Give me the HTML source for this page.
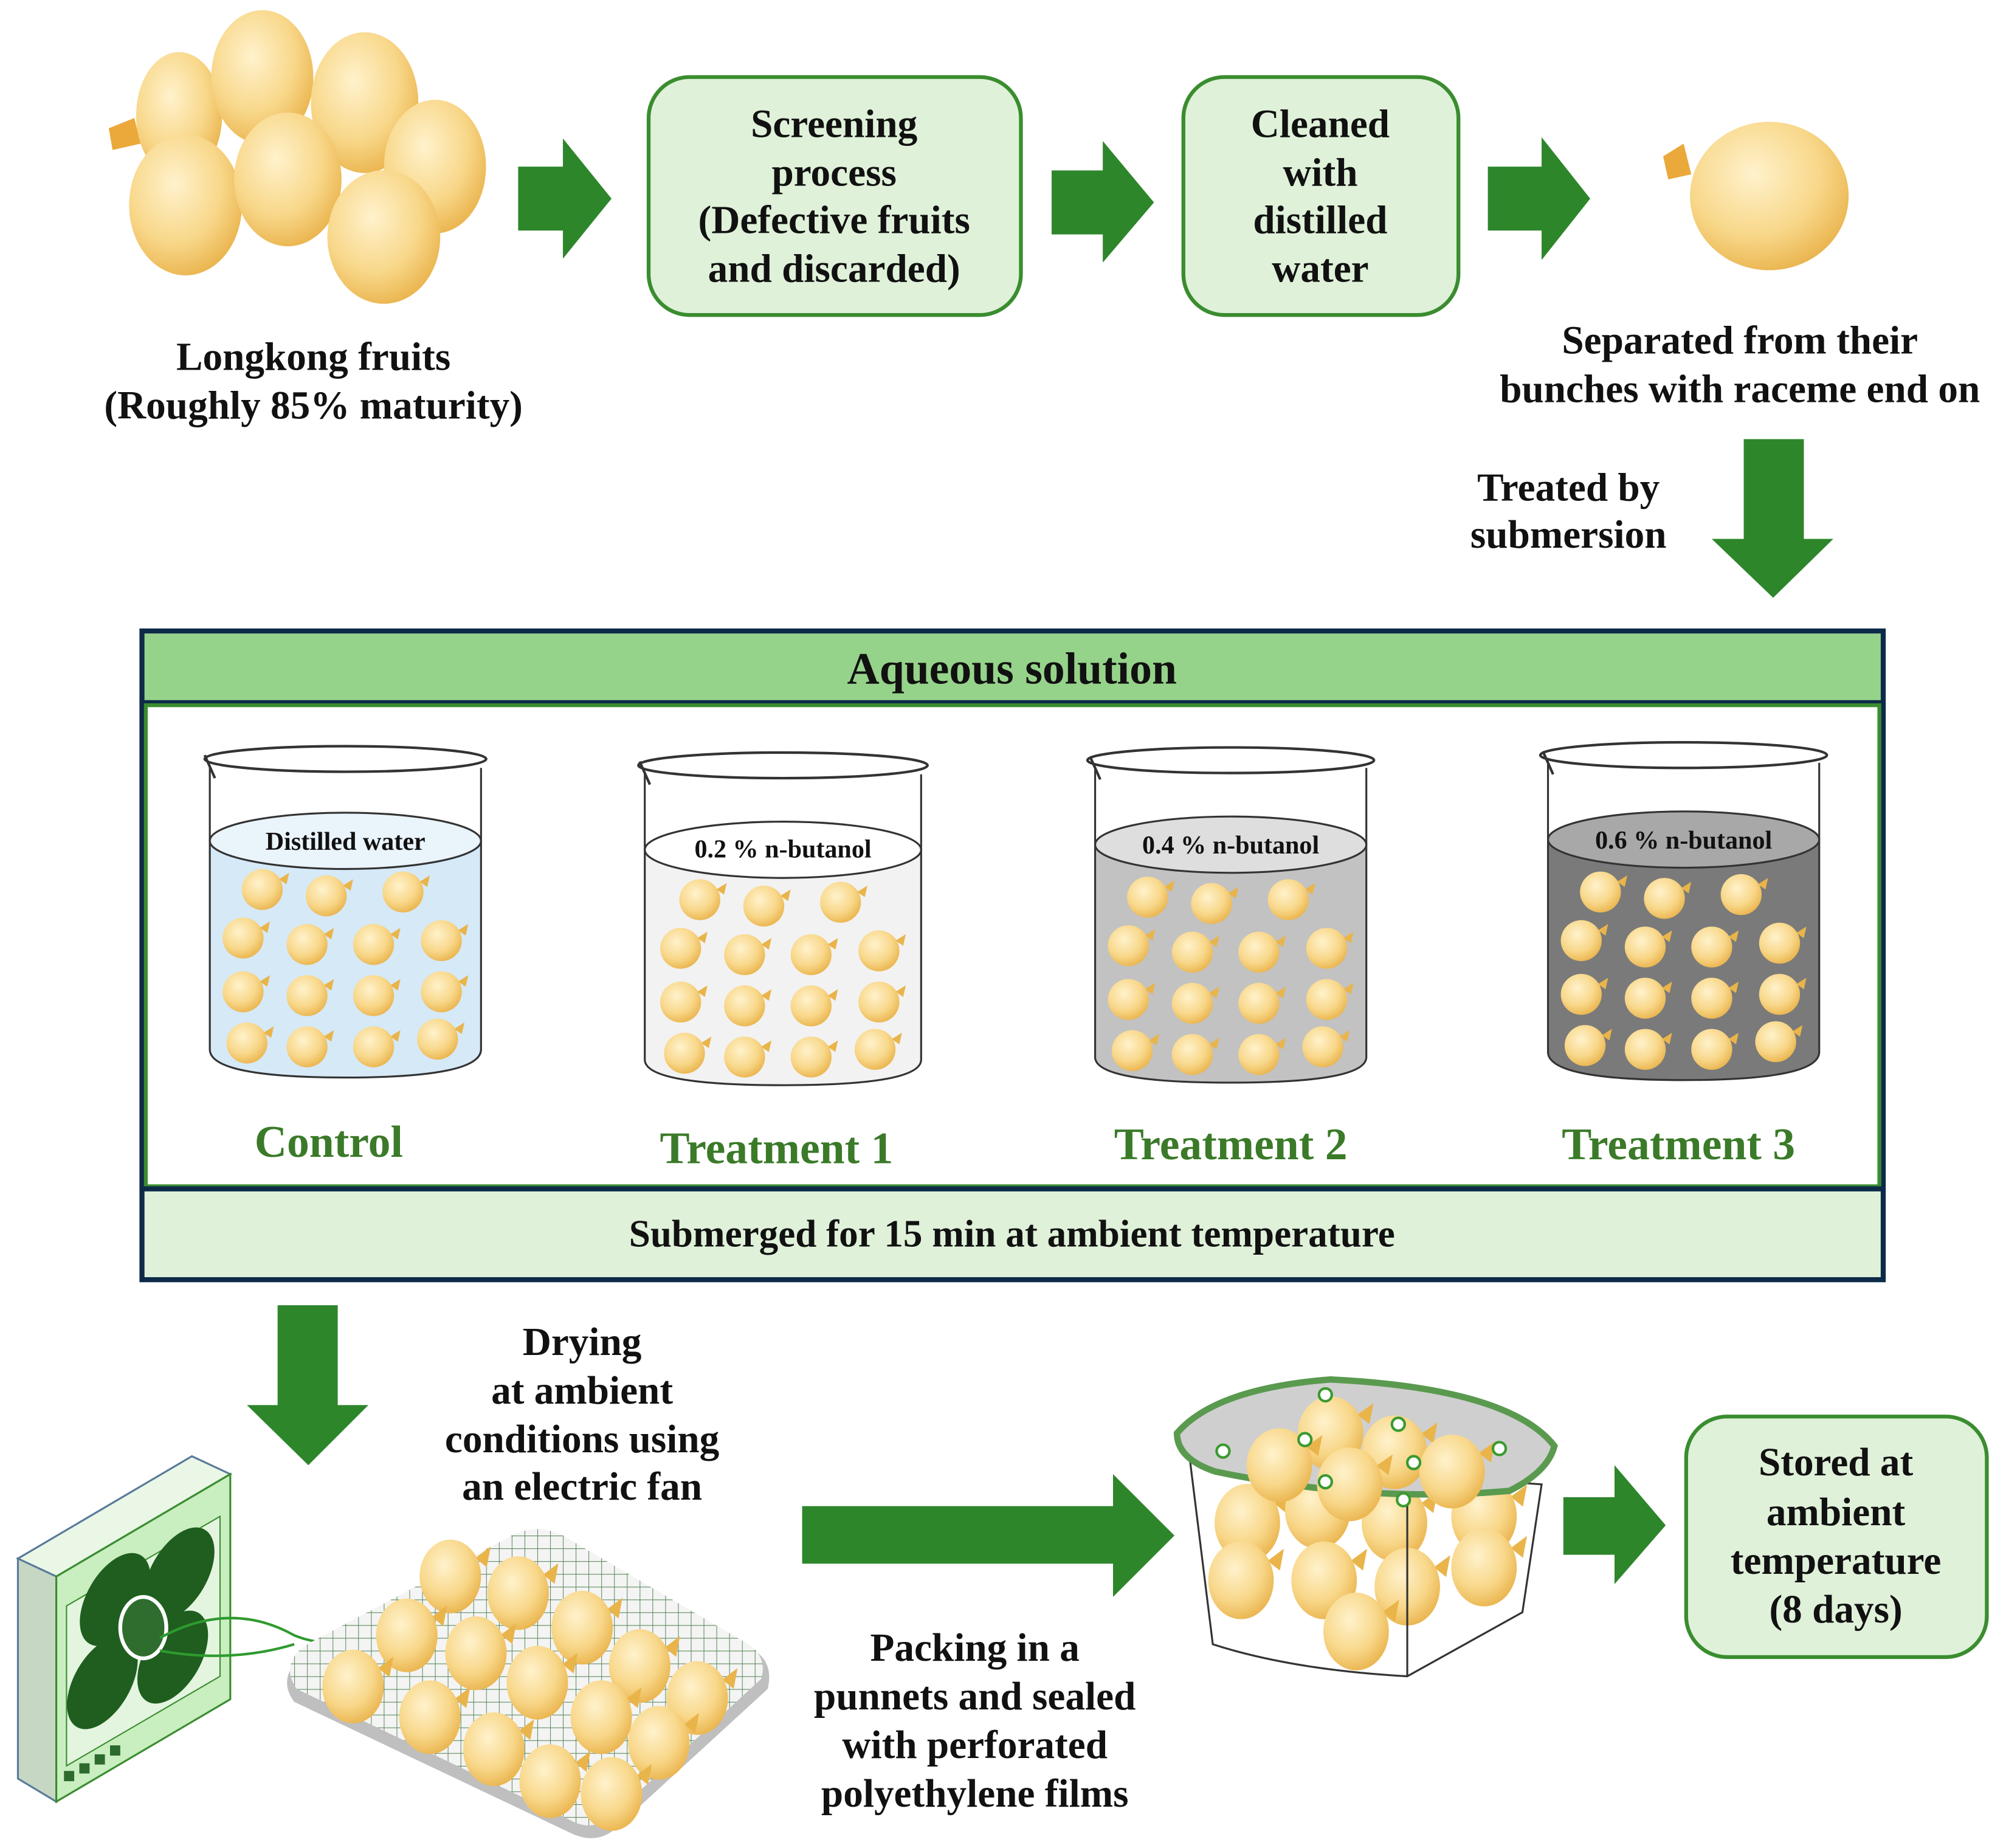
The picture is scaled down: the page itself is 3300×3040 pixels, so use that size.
<!DOCTYPE html>
<html><head><meta charset="utf-8"><style>
html,body{margin:0;padding:0;background:#fff}
svg{display:block}
text{font-family:"Liberation Serif",serif;font-weight:bold}
</style></head><body>
<svg width="3300" height="3040" viewBox="0 0 1568 1444" xmlns="http://www.w3.org/2000/svg">
<defs>
<radialGradient id="fg" cx="0.4" cy="0.35" r="0.7"><stop offset="0" stop-color="#fff2cc"/><stop offset="0.6" stop-color="#f8d789"/><stop offset="1" stop-color="#e9b24a"/></radialGradient>
<g id="f"><path d="M13,-8 l8,-5 l-2,9 z" fill="#e9b449"/><ellipse cx="0" cy="0" rx="16" ry="16" fill="url(#fg)"/></g>
<g id="F"><ellipse cx="0" cy="0" rx="42" ry="55" fill="url(#fg)"/></g>
<pattern id="grid" width="10" height="10" patternUnits="userSpaceOnUse"><rect width="10" height="10" fill="#f4f4f4"/><path d="M0,0H10M0,0V10" stroke="#5d8a5d" stroke-width="1"/></pattern>
</defs>

<!-- top-left fruit cluster -->
<path d="M85,100 l20,-8 l5,20 l-22,5 z" fill="#eaa93a"/>
<use href="#F" transform="translate(140,90) scale(0.8,0.9)"/>
<use href="#F" transform="translate(205,60) scale(0.95,0.95)"/>
<use href="#F" transform="translate(285,80) scale(1,1)"/>
<use href="#F" transform="translate(340,130) scale(0.95,0.95)"/>
<use href="#F" transform="translate(145,160) scale(1.05,1)"/>
<use href="#F" transform="translate(225,140) scale(1,0.95)"/>
<use href="#F" transform="translate(300,185) scale(1.05,0.95)"/>

<!-- arrows -->
<g fill="#2e862b">
<path d="M405,130H440V108L478,155L440,202V180H405Z"/>
<path d="M822,133H862V110L902,158L862,205V183H822Z"/>
<path d="M1163,130H1205V107L1243,155L1205,203V180H1163Z"/>
<path d="M1363,343H1410V421H1433L1386,467L1338,421H1363Z"/>
<path d="M217,1020H264V1098H288L241,1145L193,1098H217Z"/>
<path d="M627,1177H870V1152L918,1200L870,1248V1222H627Z"/>
<path d="M1222,1170H1262V1145L1302,1192L1262,1238V1215H1222Z"/>
</g>

<!-- boxes -->
<rect x="507" y="60" width="291" height="186" rx="32" fill="#dff1d9" stroke="#3a8d2f" stroke-width="3"/>
<rect x="925" y="60" width="215" height="186" rx="32" fill="#dff1d9" stroke="#3a8d2f" stroke-width="3"/>
<rect x="1318" y="1107" width="235" height="188" rx="32" fill="#dff1d9" stroke="#3a8d2f" stroke-width="3"/>

<g font-size="31" fill="#111" text-anchor="middle">
<text x="652" y="107">Screening</text>
<text x="652" y="145">process</text>
<text x="652" y="182">(Defective fruits</text>
<text x="652" y="220">and discarded)</text>
<text x="1032" y="107">Cleaned</text>
<text x="1032" y="145">with</text>
<text x="1032" y="182">distilled</text>
<text x="1032" y="220">water</text>
<text x="245" y="289">Longkong fruits</text>
<text x="245" y="327">(Roughly 85% maturity)</text>
<text x="1360" y="276">Separated from their</text>
<text x="1360" y="314">bunches with raceme end on</text>
<text x="1226" y="391">Treated by</text>
<text x="1226" y="428">submersion</text>
<text x="455" y="1059">Drying</text>
<text x="455" y="1097">at ambient</text>
<text x="455" y="1135">conditions  using</text>
<text x="455" y="1172">an electric fan</text>
<text x="762" y="1298">Packing in a</text>
<text x="762" y="1336">punnets and sealed</text>
<text x="762" y="1374">with perforated</text>
<text x="762" y="1412">polyethylene  films</text>
<text x="1435" y="1153">Stored at</text>
<text x="1435" y="1192">ambient</text>
<text x="1435" y="1230">temperature</text>
<text x="1435" y="1268">(8 days)</text>
</g>

<!-- single fruit -->
<path d="M1300,122 l16,-10 l6,24 l-18,4 z" fill="#eaa93a"/>
<ellipse cx="1383" cy="153" rx="62" ry="58" fill="url(#fg)"/>

<!-- big box -->
<rect x="111" y="493" width="1361" height="507" fill="#fff" stroke="#0d2a48" stroke-width="4"/>
<rect x="113" y="495" width="1357" height="53" fill="#96d38a"/>
<line x1="111" y1="549" x2="1472" y2="549" stroke="#0d2a48" stroke-width="4"/>
<rect x="114" y="551" width="1355" height="376" fill="none" stroke="#3a8d2f" stroke-width="3"/>
<rect x="113" y="930" width="1357" height="68" fill="#dff1d9"/>
<line x1="111" y1="929" x2="1472" y2="929" stroke="#0d2a48" stroke-width="4"/>
<text x="791" y="534" font-size="35" text-anchor="middle" fill="#111">Aqueous solution</text>
<text x="791" y="974" font-size="30" text-anchor="middle" fill="#111">Submerged for 15 min at ambient temperature</text>

<!-- beakers -->
<g>
<path d="M164,657 V820 Q164,842 270,842 Q376,842 376,820 V657 Z" fill="#d6e9f7" stroke="#333" stroke-width="1.5"/>
<ellipse cx="270" cy="657" rx="106" ry="22" fill="#eaf4fb" stroke="#333" stroke-width="1.5"/>
<path d="M164,600 V657 M376,600 V657" stroke="#333" stroke-width="1.5"/>
<ellipse cx="270" cy="593" rx="110" ry="10" fill="none" stroke="#333" stroke-width="2"/>
<path d="M160,590 l8,18" stroke="#333" stroke-width="2"/>
<text x="270" y="664" font-size="20" text-anchor="middle" fill="#111">Distilled water</text>
</g>
<g>
<path d="M504,664 V828 Q504,848 612,848 Q720,848 720,828 V664 Z" fill="#f2f2f2" stroke="#333" stroke-width="1.5"/>
<ellipse cx="612" cy="664" rx="108" ry="22" fill="#fff" stroke="#333" stroke-width="1.5"/>
<path d="M504,605 V664 M720,605 V664" stroke="#333" stroke-width="1.5"/>
<ellipse cx="612" cy="598" rx="113" ry="10" fill="none" stroke="#333" stroke-width="2"/>
<path d="M500,595 l8,18" stroke="#333" stroke-width="2"/>
<text x="612" y="670" font-size="20" text-anchor="middle" fill="#111">0.2 % n-butanol</text>
</g>
<g>
<path d="M856,660 V826 Q856,846 962,846 Q1068,846 1068,826 V660 Z" fill="#c2c2c2" stroke="#333" stroke-width="1.5"/>
<ellipse cx="962" cy="660" rx="106" ry="22" fill="#dedede" stroke="#333" stroke-width="1.5"/>
<path d="M856,600 V660 M1068,600 V660" stroke="#333" stroke-width="1.5"/>
<ellipse cx="962" cy="594" rx="112" ry="10" fill="none" stroke="#333" stroke-width="2"/>
<path d="M852,591 l8,18" stroke="#333" stroke-width="2"/>
<text x="962" y="667" font-size="20" text-anchor="middle" fill="#111">0.4 % n-butanol</text>
</g>
<g>
<path d="M1210,656 V822 Q1210,844 1316,844 Q1422,844 1422,822 V656 Z" fill="#7a7a7a" stroke="#333" stroke-width="1.5"/>
<ellipse cx="1316" cy="656" rx="106" ry="22" fill="#a8a8a8" stroke="#333" stroke-width="1.5"/>
<path d="M1210,596 V656 M1422,596 V656" stroke="#333" stroke-width="1.5"/>
<ellipse cx="1316" cy="590" rx="112" ry="10" fill="none" stroke="#333" stroke-width="2"/>
<path d="M1206,587 l8,18" stroke="#333" stroke-width="2"/>
<text x="1316" y="663" font-size="20" text-anchor="middle" fill="#111">0.6 % n-butanol</text>
</g>

<!-- beaker fruits -->
<g id="fr">
<use href="#f" x="205" y="695"/><use href="#f" x="255" y="700"/><use href="#f" x="315" y="697"/>
<use href="#f" x="190" y="733"/><use href="#f" x="240" y="738"/><use href="#f" x="292" y="738"/><use href="#f" x="345" y="735"/>
<use href="#f" x="190" y="775"/><use href="#f" x="240" y="778"/><use href="#f" x="292" y="778"/><use href="#f" x="345" y="775"/>
<use href="#f" x="193" y="815"/><use href="#f" x="240" y="818"/><use href="#f" x="292" y="818"/><use href="#f" x="342" y="812"/>
</g>
<use href="#fr" x="342" y="8"/>
<use href="#fr" x="692" y="6"/>
<use href="#fr" x="1046" y="2"/>

<g font-size="35" fill="#3a7a28" text-anchor="middle">
<text x="257" y="904">Control</text>
<text x="607" y="909">Treatment 1</text>
<text x="962" y="906">Treatment 2</text>
<text x="1312" y="906">Treatment 3</text>
</g>

<!-- fan -->
<path d="M14,1218 L150,1138 L180,1152 L44,1232 Z" fill="#eaf7e6" stroke="#5a7a9a" stroke-width="1.5"/>
<path d="M14,1218 L44,1232 V1408 L14,1390 Z" fill="#c6d8c4" stroke="#5a7a9a" stroke-width="1.5"/>
<path d="M44,1232 L180,1152 V1328 L44,1408 Z" fill="#c9eec0" stroke="#3a8d2f" stroke-width="1.5"/>
<path d="M52,1255 L172,1185 V1310 L52,1380 Z" fill="#e4f5df" stroke="#3a8d2f" stroke-width="1"/>
<g fill="#1f5e1f">
<ellipse cx="90" cy="1250" rx="22" ry="40" transform="rotate(30 90 1250)"/>
<ellipse cx="140" cy="1230" rx="22" ry="40" transform="rotate(30 140 1230)"/>
<ellipse cx="80" cy="1315" rx="22" ry="40" transform="rotate(30 80 1315)"/>
<ellipse cx="135" cy="1295" rx="22" ry="40" transform="rotate(30 135 1295)"/>
</g>
<ellipse cx="112" cy="1272" rx="18" ry="24" fill="#2f6d2f" stroke="#fff" stroke-width="3"/>
<path d="M125,1280 Q180,1250 230,1278 Q260,1290 280,1275 M125,1290 Q180,1300 230,1285" fill="none" stroke="#2e9a2e" stroke-width="2"/>
<g fill="#2d6a2d"><rect x="50" y="1384" width="8" height="8"/><rect x="62" y="1378" width="8" height="8"/><rect x="74" y="1371" width="8" height="8"/><rect x="86" y="1364" width="8" height="8"/></g>

<!-- tray -->
<path d="M240,1290 L400,1205 Q420,1195 440,1205 L590,1290 Q605,1300 600,1320 L480,1430 Q465,1442 445,1432 L230,1330 Q215,1310 240,1290 Z" fill="#bfbfbf"/>
<path d="M240,1285 L400,1200 Q420,1190 440,1200 L585,1285 Q600,1295 595,1312 L478,1420 Q462,1432 445,1422 L232,1320 Q218,1300 240,1285 Z" fill="url(#grid)"/>
<g>
<use href="#f" transform="translate(352,1232) scale(1.5,1.8)"/>
<use href="#f" transform="translate(405,1245) scale(1.5,1.8)"/>
<use href="#f" transform="translate(318,1278) scale(1.5,1.8)"/>
<use href="#f" transform="translate(372,1292) scale(1.5,1.8)"/>
<use href="#f" transform="translate(455,1272) scale(1.5,1.8)"/>
<use href="#f" transform="translate(276,1318) scale(1.5,1.8)"/>
<use href="#f" transform="translate(420,1315) scale(1.5,1.8)"/>
<use href="#f" transform="translate(500,1302) scale(1.5,1.8)"/>
<use href="#f" transform="translate(336,1342) scale(1.5,1.8)"/>
<use href="#f" transform="translate(470,1342) scale(1.5,1.8)"/>
<use href="#f" transform="translate(545,1327) scale(1.5,1.8)"/>
<use href="#f" transform="translate(386,1367) scale(1.5,1.8)"/>
<use href="#f" transform="translate(515,1362) scale(1.5,1.8)"/>
<use href="#f" transform="translate(430,1392) scale(1.5,1.8)"/>
<use href="#f" transform="translate(478,1402) scale(1.5,1.8)"/>
</g>

<!-- punnet -->
<path d="M930,1140 L948,1285 Q1010,1305 1100,1310 L1190,1260 L1205,1160 Z" fill="#fff" stroke="#333" stroke-width="1.5"/>
<g>
<use href="#f" transform="translate(975,1190) scale(1.6,1.9)"/>
<use href="#f" transform="translate(1030,1180) scale(1.6,1.9)"/>
<use href="#f" transform="translate(1090,1190) scale(1.6,1.9)"/>
<use href="#f" transform="translate(1160,1185) scale(1.6,1.9)"/>
<use href="#f" transform="translate(970,1235) scale(1.6,1.9)"/>
<use href="#f" transform="translate(1035,1235) scale(1.6,1.9)"/>
<use href="#f" transform="translate(1100,1240) scale(1.6,1.9)"/>
<use href="#f" transform="translate(1160,1225) scale(1.6,1.9)"/>
<use href="#f" transform="translate(1060,1275) scale(1.6,1.9)"/>
</g>
<path d="M1100,1165 V1310" stroke="#333" stroke-width="1.5"/>
<path d="M920,1120 Q950,1085 1040,1078 Q1180,1085 1215,1130 Q1210,1150 1180,1165 Q1070,1175 950,1150 Q920,1140 920,1120 Z" fill="#cfcfcf" stroke="#5a9a4f" stroke-width="5"/>
<use href="#f" transform="translate(1040,1120) scale(1.6,1.8)"/>
<use href="#f" transform="translate(1090,1135) scale(1.6,1.8)"/>
<use href="#f" transform="translate(1000,1145) scale(1.6,1.8)"/>
<use href="#f" transform="translate(1135,1150) scale(1.6,1.8)"/>
<use href="#f" transform="translate(1055,1160) scale(1.6,1.8)"/>
<g fill="#fff" stroke="#3a9a2f" stroke-width="2">
<circle cx="1036" cy="1090" r="5"/><circle cx="1093" cy="1113" r="5"/><circle cx="956" cy="1134" r="5"/><circle cx="1020" cy="1125" r="5"/><circle cx="1105" cy="1143" r="5"/><circle cx="1172" cy="1132" r="5"/><circle cx="1036" cy="1158" r="5"/><circle cx="1097" cy="1172" r="5"/>
</g>
</svg>
</body></html>
